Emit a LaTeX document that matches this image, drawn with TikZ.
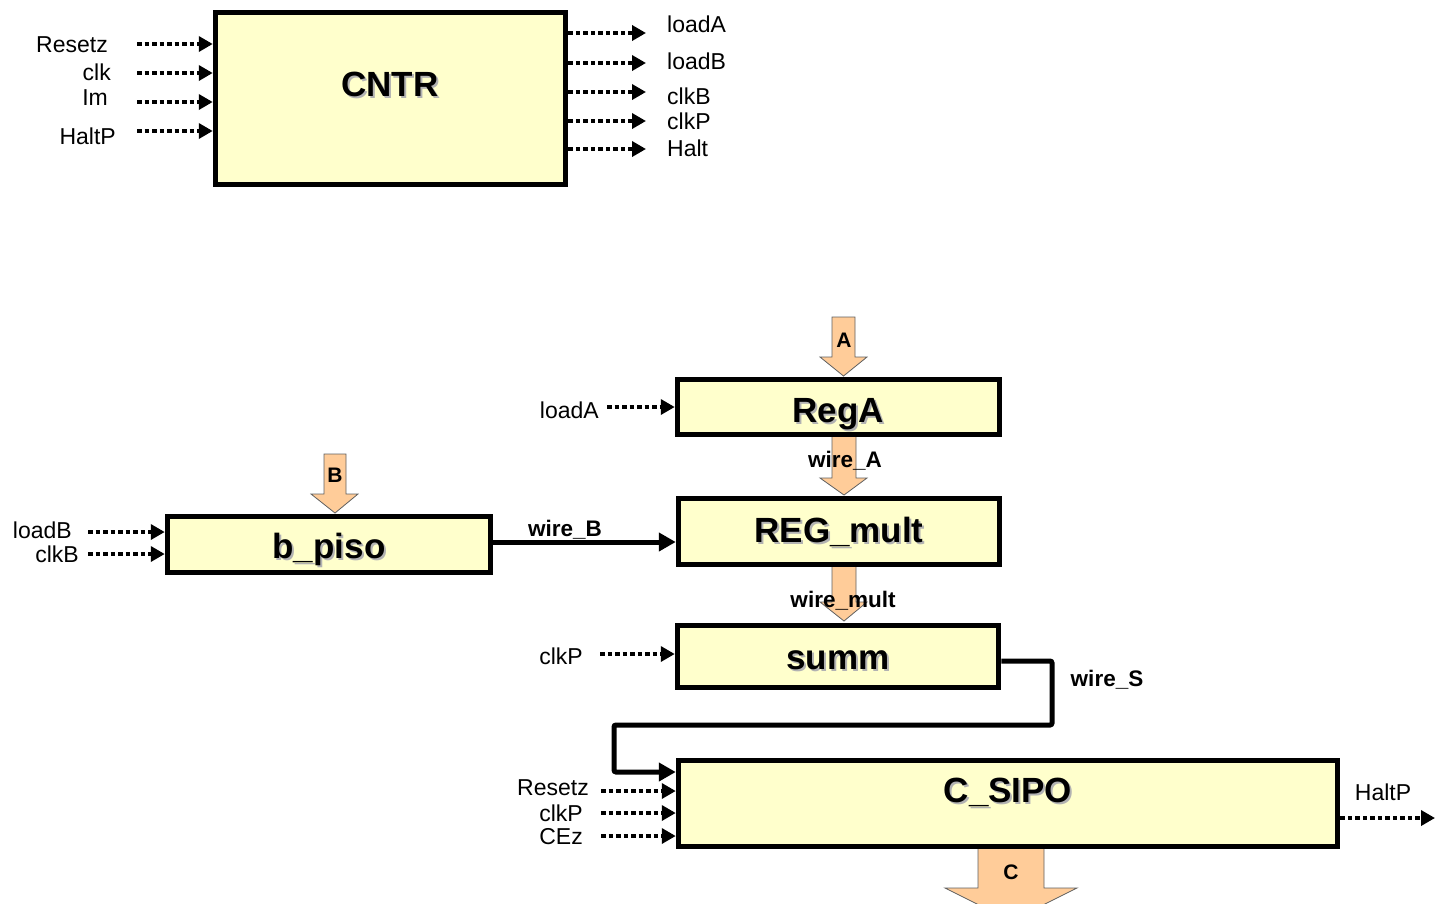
\documentclass[tikz,border=0pt]{standalone}
\usepackage{fontspec}
\setmainfont{Liberation Sans}
\usetikzlibrary{arrows.meta}
\definecolor{boxfill}{HTML}{FFFFCC}
\definecolor{busfill}{HTML}{FFCC99}
\definecolor{busline}{HTML}{606060}
\newcommand{\shtitle}[1]{\makebox[0pt][l]{\hspace{2pt}\raisebox{-2pt}{\color{black!30}#1}}#1}
\tikzset{
  blk/.style={draw=black, line width=5.5pt, fill=boxfill, inner sep=0pt},
  ttl/.style={font=\fontsize{35}{38}\selectfont\bfseries, inner sep=0pt, text height=25pt, text depth=0pt},
  lbl/.style={font=\fontsize{23}{25}\selectfont, inner sep=0pt, text height=16.5pt, text depth=0pt},
  wlbl/.style={font=\fontsize{22.5}{24}\selectfont\bfseries, inner sep=0pt, text height=16pt, text depth=0pt},
  blbl/.style={font=\fontsize{21}{23}\selectfont\bfseries, inner sep=0pt, text height=15pt, text depth=0pt},
  sig/.style={line width=4pt, dash pattern=on 4.5pt off 3pt, -{Triangle[length=14pt,width=15pt]}},
  wire/.style={line width=5pt, -{Triangle[length=17pt,width=18pt]}},
  bus/.style={draw=busline, line width=0.8pt, fill=busfill, line join=miter},
}
\begin{document}
\begin{tikzpicture}[x=1pt,y=-1pt]
\useasboundingbox (0,0) rectangle (1445,903);
\clip (0,0) rectangle (1445,903);

% ---------- CNTR ----------
\node[blk, minimum width=350pt, minimum height=172pt] (cntr) at (390.5,98.5) {};
\node[ttl] (cntrt) at (390,84) {\shtitle{CNTR}};

\coordinate (ci1) at (137,44);
\coordinate (ci2) at (137,73);
\coordinate (ci3) at (137,102);
\coordinate (ci4) at (137,131);
\foreach \c in {ci1,ci2,ci3,ci4} \draw[sig] (\c) -- (\c -| cntr.west);
\node[lbl, anchor=east] (lr) at (108,44) {Resetz};
\node[lbl, anchor=east] (lc) at (111,72) {clk};
\node[lbl, anchor=east] (li) at (108,97) {Im};
\node[lbl, anchor=east] (lh) at (116,136) {HaltP};

\coordinate (co1) at (646,33);
\coordinate (co2) at (646,63);
\coordinate (co3) at (646,92);
\coordinate (co4) at (646,121);
\coordinate (co5) at (646,149);
\foreach \c in {co1,co2,co3,co4,co5} \draw[sig] (\c -| cntr.east) -- (\c);
\node[lbl, anchor=west] (ola) at (667,24) {loadA};
\node[lbl, anchor=west] (olb) at (667,61) {loadB};
\node[lbl, anchor=west] (ocb) at (667,96) {clkB};
\node[lbl, anchor=west] (ocp) at (667,121) {clkP};
\node[lbl, anchor=west] (oh) at (667,148) {Halt};

% ---------- block arrows (drawn under boxes) ----------
\filldraw[bus] (832,317) -- (855,317) -- (855,357) -- (867,357) -- (843.5,376) -- (820,357) -- (832,357) -- cycle;
\filldraw[bus] (832,430) -- (856,430) -- (856,478) -- (867,478) -- (844,495) -- (820,478) -- (832,478) -- cycle;
\filldraw[bus] (832,560) -- (856,560) -- (856,602) -- (867,602) -- (844,621) -- (820,602) -- (832,602) -- cycle;
\filldraw[bus] (324,454) -- (346,454) -- (346,494) -- (358,494) -- (335,513) -- (311,494) -- (324,494) -- cycle;
\filldraw[bus] (978,845) -- (1044,845) -- (1044,888) -- (1077,888) -- (1011,921) -- (945,888) -- (978,888) -- cycle;

% ---------- RegA ----------
\node[blbl] (la) at (844,340) {A};
\node[blk, minimum width=322pt, minimum height=55pt] (rega) at (838.5,407) {};
\node[ttl] (regat) at (838,410) {\shtitle{RegA}};
\coordinate (rla) at (607,407);
\draw[sig] (rla) -- (rla -| rega.west);
\node[lbl, anchor=east] (lla) at (599,410) {loadA};

% ---------- REG_mult ----------
\node[blk, minimum width=321pt, minimum height=66pt] (regm) at (839,531.5) {};
\node[ttl] (regmt) at (839,530) {\shtitle{REG\_mult}};
\node[wlbl] (lwa) at (845,459) {wire\_A};

% ---------- summ ----------
\node[blk, minimum width=321pt, minimum height=62pt] (summ) at (838,656.5) {};
\node[ttl] (summt) at (838,657) {\shtitle{summ}};
\node[wlbl] (lwm) at (843,599) {wire\_mult};
\coordinate (scp) at (600,654);
\draw[sig] (scp) -- (scp -| summ.west);
\node[lbl, anchor=east] (lscp) at (583,656) {clkP};

% ---------- b_piso ----------
\node[blbl] (lb) at (335,475) {B};
\node[blk, minimum width=323pt, minimum height=56pt] (bpiso) at (329,544.5) {};
\node[ttl] (bpisot) at (329,546) {\shtitle{b\_piso}};
\coordinate (blb) at (88,532);
\coordinate (bcb) at (88,554);
\draw[sig] (blb) -- (blb -| bpiso.west);
\draw[sig] (bcb) -- (bcb -| bpiso.west);
\node[lbl, anchor=east] (lblb) at (72,530) {loadB};
\node[lbl, anchor=east] (lbcb) at (79,554) {clkB};

\coordinate (wb) at (493,542);
\draw[wire] (wb -| bpiso.east) -- (wb -| regm.west);
\node[wlbl] (lwb) at (565,528) {wire\_B};

% ---------- C_SIPO ----------
\node[blk, minimum width=659pt, minimum height=86pt] (csipo) at (1008,803.5) {};
\node[ttl] (csipot) at (1008,790) {\shtitle{C\_SIPO}};
\coordinate (ws) at (1001,661);
\coordinate (wsin) at (614,772);
\draw[wire, rounded corners=2pt] (ws -| summ.east) -- (1052,661) -- (1052,725) -- (614,725) -- (wsin) -- (wsin -| csipo.west);
\node[wlbl] (lws) at (1107,678) {wire\_S};

\coordinate (sr) at (601,791);
\coordinate (sc) at (601,813);
\coordinate (se) at (601,836);
\draw[sig] (sr) -- (sr -| csipo.west);
\draw[sig] (sc) -- (sc -| csipo.west);
\draw[sig] (se) -- (se -| csipo.west);
\node[lbl, anchor=east] (lsr) at (589,787) {Resetz};
\node[lbl, anchor=east] (lsc) at (583,813) {clkP};
\node[lbl, anchor=east] (lse) at (583,836) {CEz};

\coordinate (ho) at (1435,818);
\draw[sig] (ho -| csipo.east) -- (ho);
\node[lbl] (lho) at (1383,792) {HaltP};

\node[blbl] (lcc) at (1011,872) {C};
\end{tikzpicture}
\end{document}
